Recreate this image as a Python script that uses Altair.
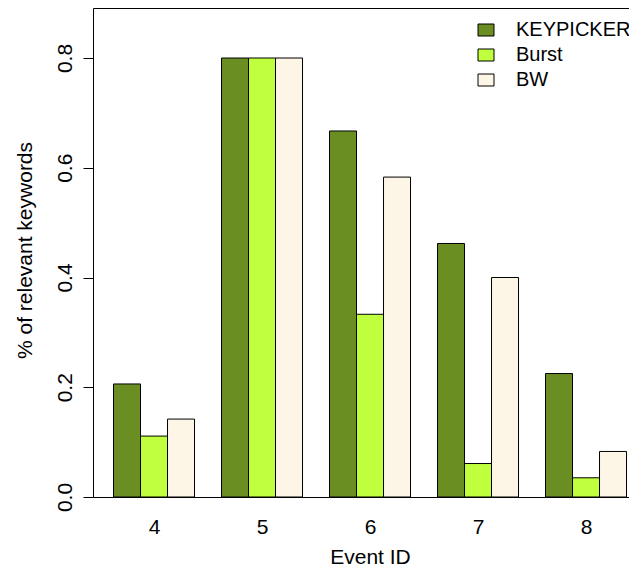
import altair as alt
import pandas as pd

events = [4, 5, 6, 7, 8]
series = ["KEYPICKER", "Burst", "BW"]
keypicker = [0.206, 0.800, 0.667, 0.462, 0.225]
burst = [0.111, 0.800, 0.333, 0.061, 0.035]
bw = [0.142, 0.800, 0.583, 0.400, 0.083]
colors = ["#6B8E23", "#C0FF3E", "#FDF5E6"]
y_ticks = [0.0, 0.2, 0.4, 0.6, 0.8]

FONT = "Liberation Sans"
FS = 21

rows = []
for gi, ev in enumerate(events):
    for si, (name, vals) in enumerate(zip(series, [keypicker, burst, bw])):
        left = 1 + gi * 4 + si
        rows.append({"event": ev, "series": name, "order": si,
                     "x0": left, "x1": left + 1, "value": vals[gi], "base": 0.0})
df = pd.DataFrame(rows)

centers = [1 + gi * 4 + 1.5 for gi in range(len(events))]
label_expr = " : ".join(
    [f"datum.value == {c} ? '{e}'" for c, e in zip(centers, events)]) + " : ''"

W, H = 536, 489
xscale = alt.Scale(domain=[0.24, 0.24 + W / 27.0], nice=False, zero=False)
yscale = alt.Scale(domain=[0, H / 548.75], nice=False)

bars = alt.Chart(df).mark_bar(stroke="black", strokeWidth=1).encode(
    x=alt.X("x0:Q", scale=xscale,
            axis=alt.Axis(values=centers, labelExpr=label_expr, title="Event ID",
                          ticks=False, tickSize=0, grid=False, domain=True,
                          labelPadding=36, labelBaseline="alphabetic",
                          labelFlush=False, labelOverlap=False,
                          titleX=277, titleY=66, titleBaseline="alphabetic",
                          titleAlign="center")),
    x2="x1:Q",
    y=alt.Y("value:Q", scale=yscale,
            axis=alt.Axis(values=y_ticks, format=".1f", labelAngle=-90,
                          labelAlign="center", labelBaseline="alphabetic",
                          tickSize=10, labelPadding=12, grid=False,
                          labelFlush=False, labelOverlap=False,
                          title="% of relevant keywords", titleAngle=-90,
                          titleX=-61.5, titleY=242, titleBaseline="alphabetic",
                          titleAlign="center")),
    y2="base:Q",
    color=alt.Color("series:N", sort=series,
                    scale=alt.Scale(domain=series, range=colors),
                    legend=alt.Legend(title=None, orient="none", legendX=383, legendY=12,
                                      symbolType="M-1,-0.75H1V0.75H-1Z", symbolSize=256,
                                      symbolStrokeColor="black", symbolStrokeWidth=1,
                                      labelFontSize=20, labelFont=FONT, labelOffset=20,
                                      rowPadding=5, padding=0, labelColor="black")),
)

frame = alt.Chart(df).mark_bar(opacity=0).encode(
    x=alt.X("x0:Q", scale=xscale,
            axis=alt.Axis(orient="top", labels=False, ticks=False, grid=False,
                          title=None, domain=True)),
    x2="x1:Q",
    y=alt.Y("value:Q", scale=yscale),
    y2="base:Q",
)

chart = alt.layer(bars, frame).resolve_axis(x="independent").properties(
    width=W, height=H,
    autosize=alt.AutoSizeParams(type="none"),
    padding={"left": 85, "top": 0, "right": 0, "bottom": 72},
).configure_view(stroke=None).configure_axis(
    domainColor="black", tickColor="black", labelColor="black", titleColor="black",
    labelFont=FONT, titleFont=FONT, labelFontSize=FS, titleFontSize=FS,
    titleFontWeight="normal", domainWidth=1, tickWidth=1,
)

chart.save("out.html", embed_options={"renderer": "svg", "actions": False})
